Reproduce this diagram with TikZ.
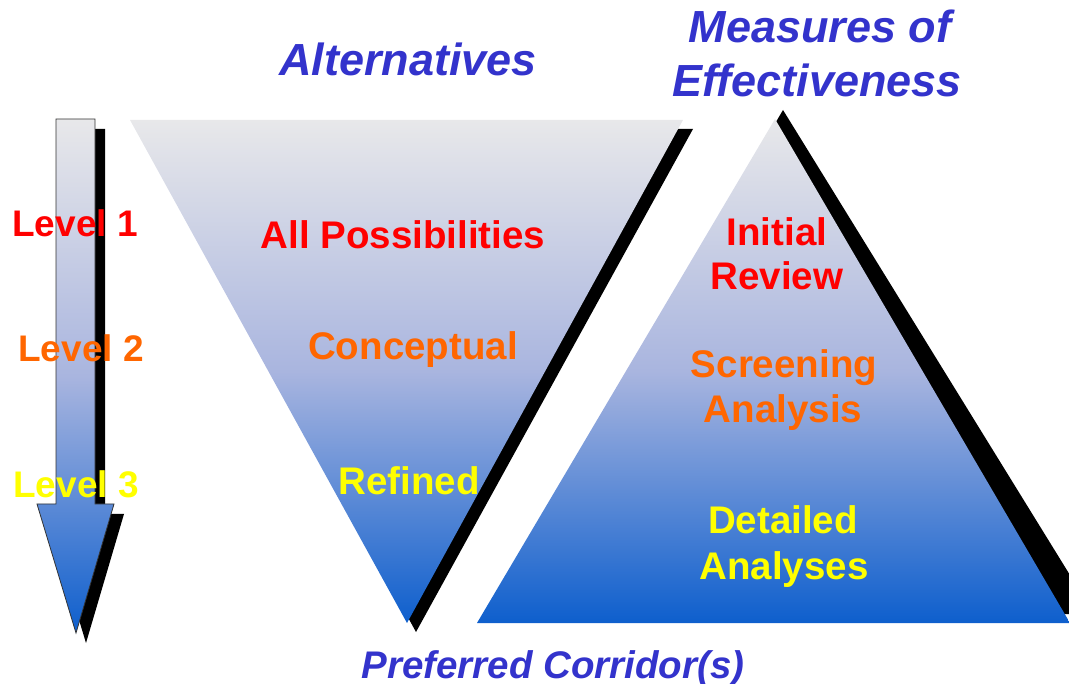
\documentclass[tikz,border=0pt]{standalone}
\usepackage{fontspec}
\setmainfont{Liberation Sans}
\usetikzlibrary{positioning}
\definecolor{moeblue}{HTML}{3333CC}
\definecolor{lvlred}{HTML}{FF0000}
\definecolor{lvlorange}{HTML}{FF6600}
\definecolor{lvlyellow}{HTML}{FFFF00}
\definecolor{shadetop}{HTML}{E8E8EA}
\definecolor{shademid}{HTML}{A9B5DF}
\definecolor{shadebot}{HTML}{0E5FCD}
\begin{document}
\begin{tikzpicture}[x=1pt, y=-1pt,
  funnel/.style={top color=shadetop, bottom color=shadebot, middle color=shademid},
  ttl/.style={text=moeblue, font=\fontsize{45}{52}\selectfont\bfseries\itshape, anchor=base, inner sep=0pt},
  lbl/.style={font=\fontsize{38.5}{46}\selectfont\bfseries, anchor=base, inner sep=0pt}]
\useasboundingbox (0,0) rectangle (1069,684);
\clip (0,0) rectangle (1069,684);
% shadows
\fill[black] (66,129) -- (105,129) -- (105,514) -- (124,514) -- (86,643) -- (47,514) -- (66,514) -- cycle;
\fill[black] (140,129) -- (693,129) -- (416,632) -- cycle;
\fill[black] (783,110) -- (1094,614) -- (487,614) -- cycle;
% level arrow
\draw[funnel, draw=black!80, line width=0.8pt] (56,119) -- (95,119) -- (95,504) -- (114,504) -- (76,633) -- (37,504) -- (56,504) -- cycle;
% alternatives funnel and measures pyramid
\shade[funnel] (130,120) -- (683,120) -- (407,623) -- cycle;
\shade[funnel] (775,119) -- (1070,623) -- (477,623) -- cycle;
% headings
\node[ttl] (alt) at (408,76) {Alternatives};
\node[ttl] (moe1) at (820,43) {Measures of};
\node[ttl] (moe2) at (817,97) {Effectiveness};
\node[ttl, font=\fontsize{38.5}{46}\selectfont\bfseries\itshape] (corr) at (553,678) {Preferred Corridor(s)};
% levels
\node[lbl, font=\fontsize{37}{44}\selectfont\bfseries, text=lvlred] (lev1) at (75,237) {Level 1};
\node[lbl, font=\fontsize{37}{44}\selectfont\bfseries, text=lvlorange] (lev2) at (81,362) {Level 2};
\node[lbl, font=\fontsize{37}{44}\selectfont\bfseries, text=lvlyellow] (lev3) at (76,497) {Level 3};
% alternatives
\node[lbl, text=lvlred] (allposs) at (403,249) {All Possibilities};
\node[lbl, text=lvlorange] (concept) at (413,360) {Conceptual};
\node[lbl, text=lvlyellow] (refined) at (409,495) {Refined};
% measures
\node[lbl, text=lvlred] (initial) at (777,246) {Initial};
\node[lbl, text=lvlred] (review) at (777,290) {Review};
\node[lbl, text=lvlorange] (screen) at (784,378) {Screening};
\node[lbl, text=lvlorange] (analysis) at (783,423) {Analysis};
\node[lbl, text=lvlyellow] (detail) at (783,533) {Detailed};
\node[lbl, text=lvlyellow] (analyses) at (784,579) {Analyses};
\end{tikzpicture}
\end{document}
